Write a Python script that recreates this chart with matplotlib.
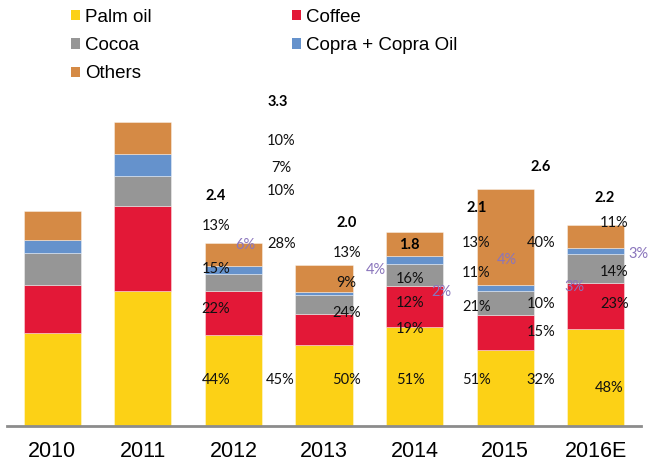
import matplotlib
matplotlib.use("Agg")
import matplotlib.pyplot as plt
from matplotlib.patches import Patch

years = ['2010', '2011', '2012', '2013', '2014', '2015', '2016E']
palm = [1.02, 1.48, 1.00, 0.89, 1.08, 0.83, 1.06]
coffee = [0.52, 0.93, 0.48, 0.34, 0.45, 0.39, 0.51]
cocoa = [0.35, 0.33, 0.19, 0.21, 0.25, 0.26, 0.31]
copra = [0.15, 0.24, 0.08, 0.03, 0.08, 0.07, 0.07]
others = [0.31, 0.35, 0.26, 0.29, 0.27, 1.05, 0.25]

series_names = ['Palm oil', 'Coffee', 'Cocoa', 'Copra + Copra Oil', 'Others']
series_vals = [palm, coffee, cocoa, copra, others]
colors = ['#FCD116', '#E31837', '#969696', '#6592CC', '#D58A45']

# total labels (as placed in the original)
total_text = ['2.4', '3.3', '2.0', '1.8', '2.1', '2.6', '2.2']
total_x = [1.807, 2.494, 3.256, 3.940, 4.691, 5.395, 6.093]
total_y = [2.519, 3.549, 2.227, 1.982, 2.384, 2.834, 2.494]

# percent labels (black)
pct_text = ['10%', '7%', '10%', '13%', '28%', '15%', '22%', '44%', '45%',
            '13%', '9%', '24%', '50%',
            '16%', '12%', '19%', '51%',
            '13%', '11%', '21%', '51%',
            '40%', '10%', '15%', '32%',
            '11%', '14%', '23%', '48%']
pct_x = [2.528, 2.528, 2.528, 1.807, 2.528, 1.807, 1.807, 1.807, 2.520,
         3.253, 3.248, 3.253, 3.253,
         3.955, 3.955, 3.955, 3.955,
         4.680, 4.680, 4.680, 4.680,
         5.397, 5.397, 5.397, 5.397,
         6.206, 6.206, 6.206, 6.145]
pct_y = [3.125, 2.826, 2.577, 2.194, 1.993, 1.716, 1.278, 0.504, 0.504,
         1.892, 1.570, 1.241, 0.504,
         1.613, 1.350, 1.059, 0.504,
         2.008, 1.679, 1.300, 0.504,
         2.008, 1.336, 1.026, 0.504,
         2.220, 1.690, 1.336, 0.413]

# percent labels (purple)
pur_text = ['6%', '4%', '2%', '4%', '3%', '3%']
pur_x = [2.130, 3.574, 4.299, 5.022, 5.762, 6.585]
pur_y = [1.982, 1.709, 1.471, 1.818, 1.526, 1.884]

fig = plt.figure(figsize=(6.5, 4.62), dpi=100)
ax = fig.add_axes([7 / 650, 36 / 462, 634 / 650, 0.722])

x = list(range(len(years)))
bottom = [0.0] * len(years)
for name, vals, c in zip(series_names, series_vals, colors):
    ax.bar(x, vals, width=0.63, bottom=bottom, color=c,
           edgecolor=(1, 1, 1, 0.45), linewidth=0.6, label=name)
    bottom = [b + v for b, v in zip(bottom, vals)]

ax.set_xlim(-0.5, 6.5)
ax.set_ylim(0, 3.654)
for s in ['top', 'right', 'left']:
    ax.spines[s].set_visible(False)
ax.spines['bottom'].set_color('#8C8C8C')
ax.spines['bottom'].set_linewidth(2)
ax.set_yticks([])
ax.set_xticks(x)
ax.set_xticklabels(years, fontsize=15.5, family='Liberation Sans')
ax.tick_params(axis='x', length=0, pad=11)

for t, xx, yy in zip(total_text, total_x, total_y):
    ax.text(xx, yy, t, ha='center', va='center', fontsize=10.5,
            fontweight='bold', family='Lato', clip_on=False)
for t, xx, yy in zip(pct_text, pct_x, pct_y):
    ax.text(xx, yy, t, ha='center', va='center', fontsize=10.5,
            family='Lato', color='#111111', clip_on=False)
for i, (t, xx, yy) in enumerate(zip(pur_text, pur_x, pur_y)):
    ax.text(xx, yy, t, ha='right' if i == len(pur_text) - 1 else 'center',
            va='center', fontsize=10.5,
            family='Lato', color='#8A75BC', clip_on=False)

handles = [Patch(facecolor=colors[i], edgecolor='none') for i in [0, 2, 4, 1, 3]]
labels = [series_names[i] for i in [0, 2, 4, 1, 3]]
fig.legend(handles, labels, ncol=2, loc='upper left',
           bbox_to_anchor=(71 / 650, 1 - 9 / 462), frameon=False,
           prop={'family': 'Liberation Sans', 'size': 13.5},
           handlelength=0.47, handleheight=0.47, handletextpad=0.3,
           columnspacing=7.45, labelspacing=0.6, borderpad=0.0,
           borderaxespad=0.0)

fig.savefig('out.png', dpi=100)
